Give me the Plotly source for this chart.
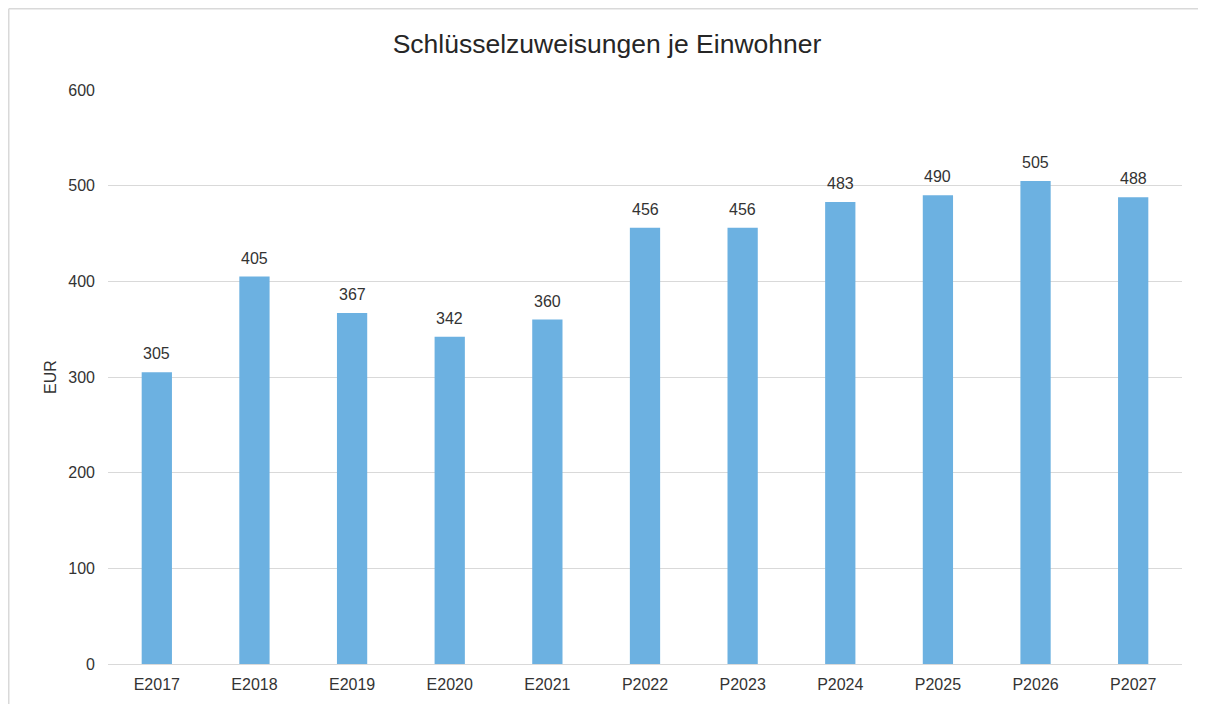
import plotly.graph_objects as go

categories = ["E2017", "E2018", "E2019", "E2020", "E2021", "P2022", "P2023", "P2024", "P2025", "P2026", "P2027"]
values = [305, 405, 367, 342, 360, 456, 456, 483, 490, 505, 488]
y_ticks = [0, 100, 200, 300, 400, 500, 600]

# page body has an 8px margin: figure coordinates = screen - 8
W, H = 1198, 696
L, R, T, B = 100, 24, 82, 40
pw, ph = W - L - R, H - T - B

def px_x(p):
    return (p - L) / pw

def px_y(p):
    return (H - B - p) / ph

fig = go.Figure(go.Bar(
    x=categories, y=values, width=0.31,
    marker=dict(color="#6cb1e1", line=dict(width=0)),
    hoverinfo="x+y",
))

for c, v in zip(categories, values):
    fig.add_annotation(x=c, y=v, text=str(v), showarrow=False,
                       yanchor="bottom", yshift=8,
                       font=dict(family="Liberation Sans, Arial", size=16, color="#333333"))

frame = dict(color="#d9d9d9", width=1.5)
fig.update_layout(
    width=W, height=H,
    margin=dict(l=L, r=R, t=T, b=B),
    paper_bgcolor="white", plot_bgcolor="white",
    font=dict(family="Liberation Sans, Arial", size=16, color="#333333"),
    title=dict(text="Schlüsselzuweisungen je Einwohner", x=0.5, xanchor="center",
               y=1 - 36 / H, yanchor="middle",
               font=dict(size=26.5, color="#262626")),
    showlegend=False,
    xaxis=dict(showgrid=False, showline=True, linecolor="#d9d9d9", linewidth=1,
               ticks="", ticklabelstandoff=6, tickfont=dict(size=16, color="#333333")),
    yaxis=dict(range=[0, 600], tickvals=y_ticks, showgrid=True, gridcolor="#d9d9d9",
               gridwidth=1, zeroline=False, showline=False, ticks="",
               tickfont=dict(size=16, color="#333333"),
               ticklabelstandoff=12,
               title=dict(text="EUR", standoff=7, font=dict(size=16, color="#333333"))),
    shapes=[
        dict(type="line", xref="paper", yref="paper",
             x0=px_x(0.75), x1=px_x(W), y0=px_y(0.75), y1=px_y(0.75), line=frame, layer="below"),
        dict(type="line", xref="paper", yref="paper",
             x0=px_x(0.75), x1=px_x(0.75), y0=px_y(0.75), y1=px_y(H), line=frame, layer="below"),
    ],
)

fig.write_html("out.html")
